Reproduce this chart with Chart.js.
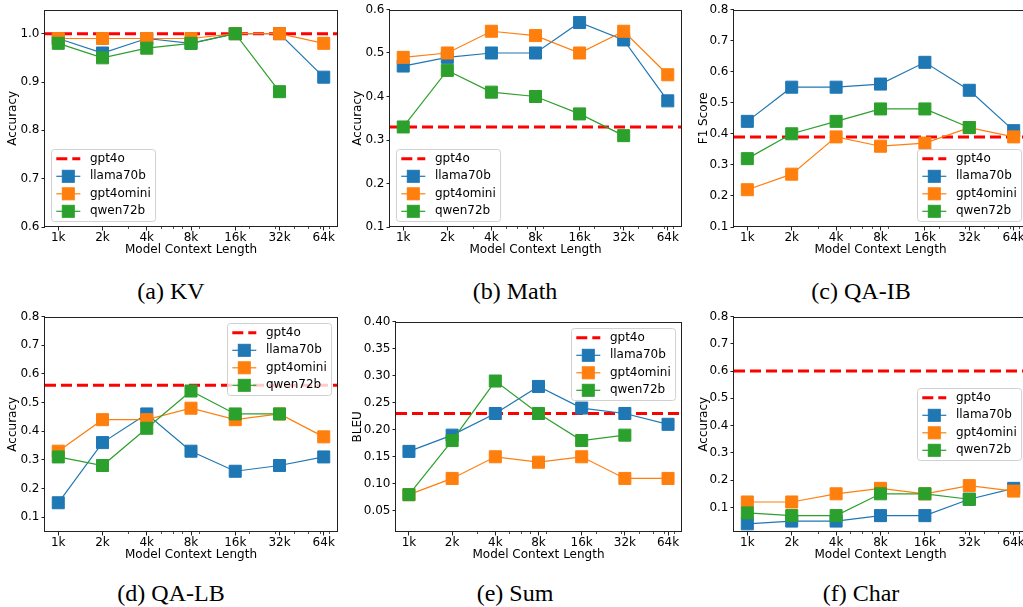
<!DOCTYPE html>
<html>
<head>
<meta charset="utf-8">
<script src="https://cdn.jsdelivr.net/npm/chart.js@4.4.0/dist/chart.umd.min.js"></script>
<style>
  html, body { margin: 0; padding: 0; background: #fff; }
  body { width: 1023px; height: 607px; position: relative; overflow: hidden; }
  canvas { position: absolute; }
  .caption {
    position: absolute;
    font-family: 'Liberation Serif', 'Times New Roman', serif;
    font-size: 24px;
    color: #000;
    transform: translate(-50%, -50%);
    white-space: nowrap;
  }
</style>
</head>
<body>
<script>
const contexts = [1000, 2000, 4000, 8000, 16000, 32000, 64000];
const contextLabels = ['1k', '2k', '4k', '8k', '16k', '32k', '64k'];
const minorContexts = [3000, 5000, 6000, 7000, 9000, 20000, 30000, 40000, 50000, 60000, 70000];
const modelNames = ['gpt4o', 'llama70b', 'gpt4omini', 'qwen72b'];

// (a) KV
const kvGpt4o = 1.0;
const kvLlama70b = [0.99, 0.96, 0.99, 0.98, 1.0, 1.0, 0.91];
const kvGpt4omini = [0.99, 0.99, 0.99, 0.99, 1.0, 1.0, 0.98];
const kvQwen72b = [0.98, 0.95, 0.97, 0.98, 1.0, 0.88, null];
const kvTicks = [0.6, 0.7, 0.8, 0.9, 1.0];

// (b) Math
const mathGpt4o = 0.33;
const mathLlama70b = [0.47, 0.49, 0.50, 0.50, 0.57, 0.53, 0.39];
const mathGpt4omini = [0.49, 0.50, 0.55, 0.54, 0.50, 0.55, 0.45];
const mathQwen72b = [0.33, 0.46, 0.41, 0.40, 0.36, 0.31, null];
const mathTicks = [0.1, 0.2, 0.3, 0.4, 0.5, 0.6];

// (c) QA-IB
const qaibGpt4o = 0.39;
const qaibLlama70b = [0.44, 0.55, 0.55, 0.56, 0.63, 0.54, 0.41];
const qaibGpt4omini = [0.22, 0.27, 0.39, 0.36, 0.37, 0.42, 0.39];
const qaibQwen72b = [0.32, 0.40, 0.44, 0.48, 0.48, 0.42, null];
const qaibTicks = [0.1, 0.2, 0.3, 0.4, 0.5, 0.6, 0.7, 0.8];

// (d) QA-LB
const qalbGpt4o = 0.56;
const qalbLlama70b = [0.15, 0.36, 0.46, 0.33, 0.26, 0.28, 0.31];
const qalbGpt4omini = [0.33, 0.44, 0.44, 0.48, 0.44, 0.46, 0.38];
const qalbQwen72b = [0.31, 0.28, 0.41, 0.54, 0.46, 0.46, null];
const qalbTicks = [0.1, 0.2, 0.3, 0.4, 0.5, 0.6, 0.7, 0.8];

// (e) Sum
const sumGpt4o = 0.23;
const sumLlama70b = [0.16, 0.19, 0.23, 0.28, 0.24, 0.23, 0.21];
const sumGpt4omini = [0.08, 0.11, 0.15, 0.14, 0.15, 0.11, 0.11];
const sumQwen72b = [0.08, 0.18, 0.29, 0.23, 0.18, 0.19, null];
const sumTicks = [0.05, 0.10, 0.15, 0.20, 0.25, 0.30, 0.35, 0.40];

// (f) Char
const charGpt4o = 0.60;
const charLlama70b = [0.04, 0.05, 0.05, 0.07, 0.07, 0.13, 0.17];
const charGpt4omini = [0.12, 0.12, 0.15, 0.17, 0.15, 0.18, 0.16];
const charQwen72b = [0.08, 0.07, 0.07, 0.15, 0.15, 0.13, null];
const charTicks = [0.1, 0.2, 0.3, 0.4, 0.5, 0.6, 0.7, 0.8];

const colors = {
  gpt4o: '#ff0000',
  llama70b: '#1f77b4',
  gpt4omini: '#ff7f0e',
  qwen72b: '#2ca02c'
};

Chart.defaults.font.family = '"DejaVu Sans", sans-serif';
Chart.defaults.font.size = 12;
Chart.defaults.color = '#000';

const panels = [
  { caption: '(a) KV', yTitle: 'Accuracy', ref: kvGpt4o, series: [kvLlama70b, kvGpt4omini, kvQwen72b], yTicks: kvTicks,
    yMin: 0.6, yMax: 1.05, decimals: 1, loc: 'lowerLeft',
    left: 45, right: 337, top: 8, bottom: 227, titleGap: 32, capX: 171, capY: 291 },
  { caption: '(b) Math', yTitle: 'Accuracy', ref: mathGpt4o, series: [mathLlama70b, mathGpt4omini, mathQwen72b], yTicks: mathTicks,
    yMin: 0.1, yMax: 0.6, decimals: 1, loc: 'lowerLeft',
    left: 390, right: 681, top: 8, bottom: 227, titleGap: 32, capX: 515, capY: 291 },
  { caption: '(c) QA-IB', yTitle: 'F1 Score', ref: qaibGpt4o, series: [qaibLlama70b, qaibGpt4omini, qaibQwen72b], yTicks: qaibTicks,
    yMin: 0.1, yMax: 0.8, decimals: 1, loc: 'lowerRight',
    left: 734, right: 1027, top: 8, bottom: 227, titleGap: 30, capX: 861, capY: 291 },
  { caption: '(d) QA-LB', yTitle: 'Accuracy', ref: qalbGpt4o, series: [qalbLlama70b, qalbGpt4omini, qalbQwen72b], yTicks: qalbTicks,
    yMin: 0.048, yMax: 0.8, decimals: 1, loc: 'upperRight',
    left: 45, right: 337, top: 315, bottom: 532, titleGap: 32, capX: 171, capY: 593 },
  { caption: '(e) Sum', yTitle: 'BLEU', ref: sumGpt4o, series: [sumLlama70b, sumGpt4omini, sumQwen72b], yTicks: sumTicks,
    yMin: 0.011, yMax: 0.40, decimals: 2, loc: 'upperRight',
    left: 396, right: 681, top: 320, bottom: 532, titleGap: 38, capX: 515, capY: 593 },
  { caption: '(f) Char', yTitle: 'Accuracy', ref: charGpt4o, series: [charLlama70b, charGpt4omini, charQwen72b], yTicks: charTicks,
    yMin: 0.01, yMax: 0.8, decimals: 1, loc: 'centerRight',
    left: 734, right: 1027, top: 315, bottom: 532, titleGap: 30, capX: 861, capY: 593 }
];

// matplotlib-style 5% margins on a log2 axis
const xMin = contexts[0] / Math.pow(2, 0.3);
const xMax = contexts[contexts.length - 1] * Math.pow(2, 0.3);

const framePlugin = {
  id: 'frame',
  afterDatasetsDraw(chart) {
    const { ctx, chartArea: a } = chart;
    ctx.save();
    ctx.strokeStyle = '#222';
    ctx.lineWidth = 1;
    ctx.strokeRect(Math.round(a.left) - 0.5, Math.round(a.top) + 0.5,
      Math.round(a.right) - Math.round(a.left) + 1, Math.round(a.bottom) - Math.round(a.top) - 1);
    // minor log ticks
    const xs = chart.scales.x;
    ctx.beginPath();
    minorContexts.forEach(v => {
      if (v <= xs.min || v >= xs.max) return;
      const px = Math.round(xs.getPixelForValue(v)) + 0.5;
      ctx.moveTo(px, a.bottom);
      ctx.lineTo(px, a.bottom + 2);
    });
    ctx.lineWidth = 0.8;
    ctx.stroke();
    ctx.restore();
  }
};

const legendPlugin = {
  id: 'legendBox',
  afterDraw(chart, args, opts) {
    const { ctx, chartArea: a } = chart;
    ctx.save();
    ctx.font = '12px "DejaVu Sans"';
    const textW = Math.max(...modelNames.map(n => ctx.measureText(n).width));
    const w = textW + 43.2, h = 72, pad = 6;
    let x, y;
    if (opts.loc === 'lowerLeft') { x = a.left + pad; y = a.bottom - pad - h; }
    else if (opts.loc === 'lowerRight') { x = a.right - pad - w; y = a.bottom - pad - h; }
    else if (opts.loc === 'upperRight') { x = a.right - pad - w; y = a.top + pad; }
    else { x = a.right - pad - w; y = (a.top + a.bottom) / 2 - h / 2; }
    x = Math.round(x) + 0.5; y = Math.round(y) + 0.5;

    ctx.beginPath();
    if (ctx.roundRect) ctx.roundRect(x, y, w, h, 3); else ctx.rect(x, y, w, h);
    ctx.fillStyle = 'rgba(255,255,255,0.8)';
    ctx.fill();
    ctx.strokeStyle = 'rgba(204,204,204,0.9)';
    ctx.lineWidth = 1;
    ctx.stroke();

    modelNames.forEach((name, i) => {
      const cy = y + 9.3 + i * 17.5;
      const x0 = x + 4.8, x1 = x + 28.8;
      ctx.beginPath();
      ctx.moveTo(x0, cy);
      ctx.lineTo(x1, cy);
      ctx.strokeStyle = colors[name];
      if (i === 0) {
        ctx.lineWidth = 3;
        ctx.setLineDash([11, 5]);
      } else {
        ctx.lineWidth = 1.2;
        ctx.setLineDash([]);
      }
      ctx.stroke();
      ctx.setLineDash([]);
      if (i > 0) {
        const cx = (x0 + x1) / 2, s = 6;
        ctx.fillStyle = colors[name];
        ctx.fillRect(cx - s, cy - s, 2 * s, 2 * s);
        ctx.lineWidth = 1;
        ctx.strokeRect(cx - s, cy - s, 2 * s, 2 * s);
      }
      ctx.fillStyle = '#000';
      ctx.textBaseline = 'middle';
      ctx.textAlign = 'left';
      ctx.fillText(name, x + 38.4, cy);
    });
    ctx.restore();
  }
};

panels.forEach(p => {
  const L = p.titleGap + 7;   // space for y tick labels + title
  const T = 8, R = 20, B = 30;
  const canvas = document.createElement('canvas');
  const w = L + (p.right - p.left) + R;
  const h = T + (p.bottom - p.top) + B;
  canvas.width = w;
  canvas.height = h;
  canvas.style.width = w + 'px';
  canvas.style.height = h + 'px';
  canvas.style.left = (p.left - L) + 'px';
  canvas.style.top = (p.top - T) + 'px';
  document.body.appendChild(canvas);

  const cap = document.createElement('div');
  cap.className = 'caption';
  cap.textContent = p.caption;
  cap.style.left = p.capX + 'px';
  cap.style.top = p.capY + 'px';
  document.body.appendChild(cap);

  const datasets = [{
    label: modelNames[0],
    data: [{ x: xMin, y: p.ref }, { x: xMax, y: p.ref }],
    borderColor: colors.gpt4o,
    borderWidth: 3,
    borderDash: [11, 5],
    pointRadius: 0,
    order: 4
  }];
  p.series.forEach((vals, k) => {
    const name = modelNames[k + 1];
    datasets.push({
      label: name,
      data: contexts.map((c, i) => ({ x: c, y: vals[i] })),
      borderColor: colors[name],
      backgroundColor: colors[name],
      borderWidth: 1.2,
      tension: 0,
      pointStyle: 'rect',
      pointRadius: 8.5,
      pointBorderWidth: 1,
      pointBackgroundColor: colors[name],
      pointBorderColor: colors[name],
      order: 3 - k
    });
  });

  new Chart(canvas, {
    type: 'line',
    data: { datasets },
    options: {
      responsive: false,
      animation: false,
      events: [],
      layout: { padding: { top: T, right: R, left: 0, bottom: 0 } },
      plugins: {
        legend: { display: false },
        tooltip: { enabled: false },
        legendBox: { loc: p.loc }
      },
      scales: {
        x: {
          type: 'logarithmic',
          min: xMin,
          max: xMax,
          bounds: 'data',
          afterBuildTicks: s => { s.ticks = contexts.map(v => ({ value: v })); },
          afterFit: s => { s.height = B; },
          ticks: { callback: (v, i) => contextLabels[i], autoSkip: false, maxRotation: 0, padding: 0, color: '#000' },
          grid: { drawOnChartArea: false, drawTicks: true, tickLength: 3.5, tickColor: '#222', tickWidth: 1 },
          border: { display: false },
          title: { display: true, text: 'Model Context Length', padding: 0, color: '#000' }
        },
        y: {
          min: p.yMin,
          max: p.yMax,
          bounds: 'data',
          afterBuildTicks: s => { s.ticks = p.yTicks.map(v => ({ value: v })); },
          afterFit: s => { s.width = L; },
          ticks: { callback: v => v.toFixed(p.decimals), padding: 2, color: '#000' },
          grid: { drawOnChartArea: false, drawTicks: true, tickLength: 3.5, tickColor: '#222', tickWidth: 1 },
          border: { display: false },
          title: { display: true, text: p.yTitle, padding: 0, color: '#000' }
        }
      }
    },
    plugins: [framePlugin, legendPlugin]
  });
});
</script>
</body>
</html>
